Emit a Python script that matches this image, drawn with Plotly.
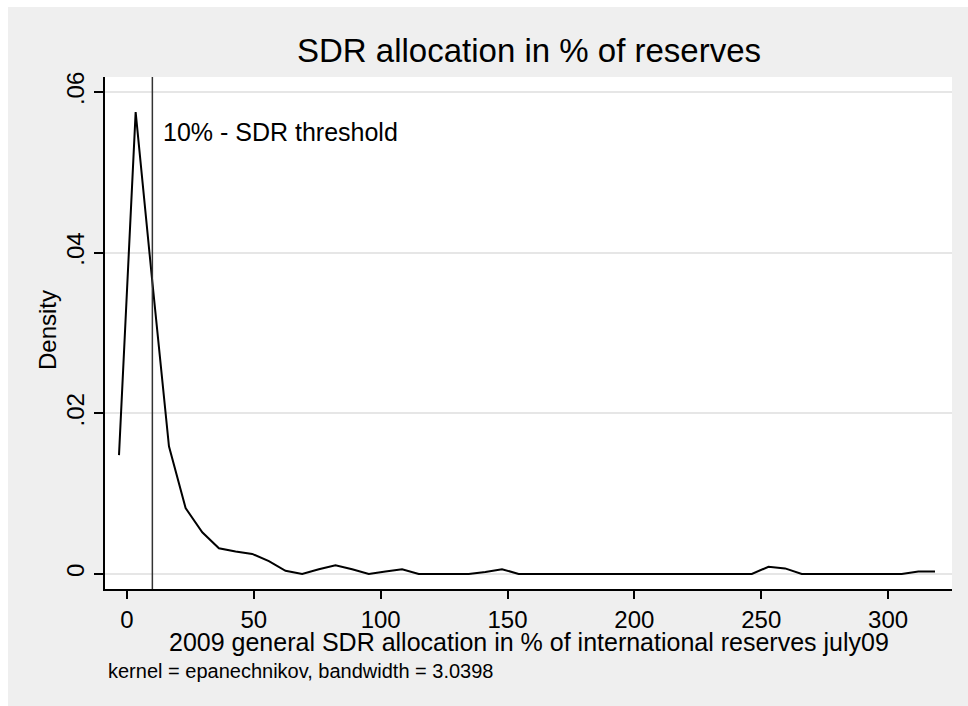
import plotly.graph_objects as go

# Kernel density estimate
x_vals = [-3.15, 3.41, 9.98, 16.54, 23.10, 29.67, 36.23, 42.80, 49.36, 55.93,
          62.49, 69.05, 75.62, 82.18, 88.75, 95.31, 101.88, 108.44, 115.00, 121.57,
          128.13, 134.70, 141.26, 147.83, 154.39, 160.95, 167.52, 174.08, 180.65, 187.21,
          193.78, 200.34, 206.91, 213.47, 220.03, 226.60, 233.16, 239.73, 246.29, 252.86,
          259.42, 265.98, 272.55, 279.11, 285.68, 292.24, 298.81, 305.37, 311.93, 318.50]
density = [0.0148, 0.0575, 0.0364, 0.0159, 0.0082, 0.0052, 0.0032, 0.0028, 0.0025, 0.0016,
           0.0004, 0.0000, 0.0006, 0.0011, 0.0006, 0.0000, 0.0003, 0.0006, 0.0000, 0.0000,
           0.0000, 0.0000, 0.00025, 0.0006, 0.0000, 0.0000, 0.0000, 0.0000, 0.0000, 0.0000,
           0.0000, 0.0000, 0.0000, 0.0000, 0.0000, 0.0000, 0.0000, 0.0000, 0.0000, 0.0009,
           0.0007, 0.0000, 0.0000, 0.0000, 0.0000, 0.0000, 0.0000, 0.0000, 0.0003, 0.0003]

threshold = 10
x_ticks = [0, 50, 100, 150, 200, 250, 300]
y_ticks = [0, 0.02, 0.04, 0.06]
y_tick_labels = ["0", ".02", ".04", ".06"]

title_text = "SDR allocation in % of reserves"
x_title = "2009 general SDR allocation in % of international reserves july09"
y_title = "Density"
note_text = "kernel = epanechnikov, bandwidth = 3.0398"
threshold_label = "10% - SDR threshold"

FONT = "Arial, Liberation Sans, sans-serif"
W, H = 968, 706
L, R, T, B = 105, 16, 77, 117
PW, PH = W - L - R, H - T - B


def px(xp):
    return (xp - L) / PW


def py(yp):
    return (H - B - yp) / PH


fig = go.Figure()
fig.add_trace(go.Scatter(x=x_vals, y=density, mode="lines",
                         line=dict(color="black", width=2), hoverinfo="skip",
                         showlegend=False))

shapes = [
    dict(type="rect", xref="paper", yref="paper", x0=px(8), x1=px(W + 2),
         y0=py(H + 2), y1=py(7), fillcolor="#efefef", line=dict(width=0), layer="below"),
    dict(type="rect", xref="paper", yref="paper", x0=0, x1=1, y0=0, y1=1,
         fillcolor="white", line=dict(width=0), layer="below"),
    dict(type="line", xref="x", yref="paper", x0=threshold, x1=threshold, y0=0, y1=1,
         line=dict(color="#333333", width=1.5)),
]

annotations = [
    dict(text=title_text, xref="paper", yref="paper", x=0.5, y=py(50),
         xanchor="center", yanchor="middle", showarrow=False,
         font=dict(family=FONT, size=33, color="black")),
    dict(text=x_title, xref="paper", yref="paper", x=0.5, y=py(642),
         xanchor="center", yanchor="middle", showarrow=False,
         font=dict(family=FONT, size=25, color="black")),
    dict(text=y_title, xref="paper", yref="paper", x=px(47), y=py(330),
         xanchor="center", yanchor="middle", textangle=-90, showarrow=False,
         font=dict(family=FONT, size=24, color="black")),
    dict(text=note_text, xref="paper", yref="paper", x=px(106), y=py(671),
         xanchor="left", yanchor="middle", showarrow=False,
         font=dict(family=FONT, size=20, color="black")),
    dict(text=threshold_label, xref="paper", yref="paper", x=px(161), y=py(132),
         xanchor="left", yanchor="middle", showarrow=False,
         font=dict(family=FONT, size=25, color="black")),
]

fig.update_layout(
    width=W, height=H,
    margin=dict(l=L, r=R, t=T, b=B, pad=0),
    paper_bgcolor="white", plot_bgcolor="rgba(0,0,0,0)",
    shapes=shapes, annotations=annotations, showlegend=False,
    xaxis=dict(range=[-8.67, 325.2], tickvals=x_ticks, showgrid=False, zeroline=False,
               showline=True, linecolor="black", linewidth=2, mirror=False,
               ticks="outside", ticklen=8, tickwidth=2, tickcolor="black",
               tickfont=dict(family=FONT, size=24, color="black")),
    yaxis=dict(range=[-0.001867, 0.06187], tickvals=y_ticks, ticktext=y_tick_labels,
               showgrid=True, gridcolor="#e6e6e6", gridwidth=1.5, zeroline=False,
               showline=True, linecolor="black", linewidth=2,
               ticks="outside", ticklen=9, tickwidth=2, tickcolor="black",
               tickangle=-90,
               tickfont=dict(family=FONT, size=24, color="black")),
)

fig.write_html("out.html")
